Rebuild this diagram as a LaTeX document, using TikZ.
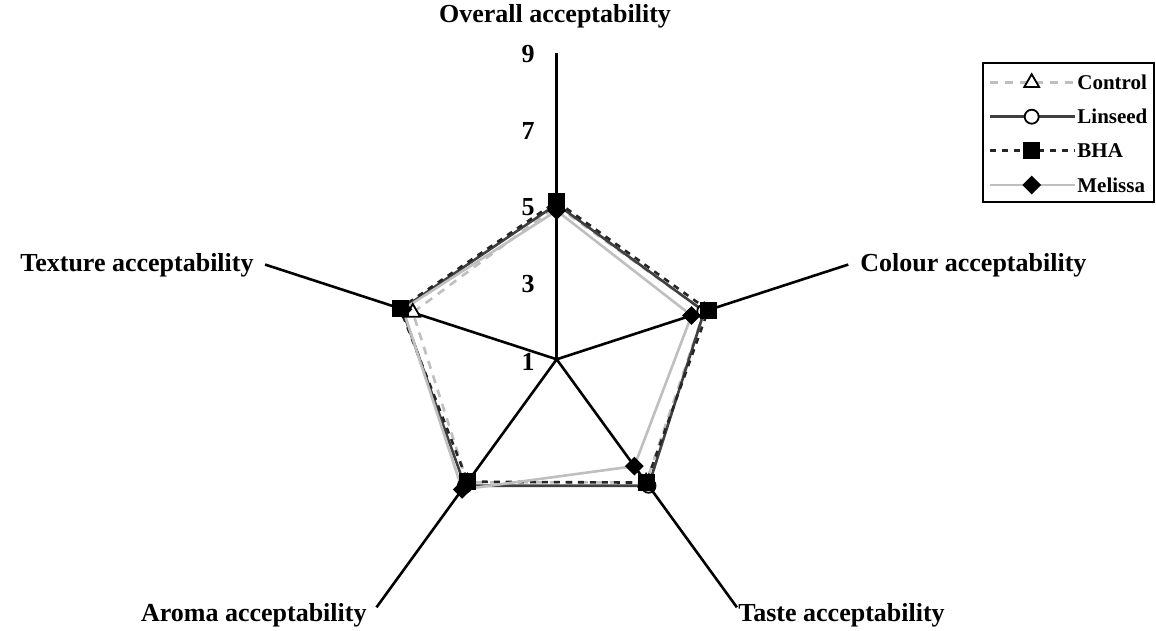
\documentclass[tikz,border=0pt]{standalone}
\usepackage{fontspec}
\setmainfont{Liberation Serif}
\usetikzlibrary{shapes.geometric}
\definecolor{lgray}{HTML}{BFBFBF}
\definecolor{dgray}{HTML}{404040}
\tikzset{
  axisline/.style={line width=1.3pt, black},
  ctrl/.style={lgray, line width=1.3pt, dash pattern=on 4pt off 3.5pt},
  lins/.style={dgray, line width=1.3pt},
  bha/.style={black!85, line width=1.3pt, dash pattern=on 3pt off 3pt},
  mel/.style={lgray, line width=1.3pt},
  mtri/.style={regular polygon, regular polygon sides=3, draw=black, fill=white, line width=0.9pt, inner sep=0pt, minimum size=8.5pt},
  mcirc/.style={circle, draw=black, fill=white, line width=0.9pt, inner sep=0pt, minimum size=7pt},
  msq/.style={rectangle, fill=black, inner sep=0pt, minimum size=8.5pt},
  mdia/.style={diamond, fill=black, inner sep=0pt, minimum width=9.5pt, minimum height=9.5pt},
  axlab/.style={inner sep=0pt},
  ticklab/.style={inner sep=0pt},
  legtext/.style={font=\fontsize{10.5}{12}\selectfont\bfseries, anchor=west, inner sep=0pt}
}
\begin{document}
\begin{tikzpicture}[x=0.5pt, y=0.5pt, font=\fontsize{13}{15}\selectfont\bfseries]
\useasboundingbox (-556.7,-271.7) rectangle (599.3,359.3);

% axes
\coordinate (O) at (0,0);
\coordinate (Aov) at (90:306.6);
\coordinate (Aco) at (18:306.6);
\coordinate (Ata) at (-54:306.6);
\coordinate (Aar) at (234:306.6);
\coordinate (Atx) at (162:306.6);
\foreach \a in {Aov,Aco,Ata,Aar,Atx} \draw[axisline] (O) -- (\a);

% axis labels
\node[axlab] (Lov) at (-1.7,342.8) {Overall acceptability};
\node[axlab, anchor=east] (Ltx) at (-302.7,93.6) {Texture acceptability};
\node[axlab, anchor=west] (Lco) at (303.3,93.6) {Colour acceptability};
\node[axlab, anchor=east] (Lar) at (-189.7,-255.7) {Aroma acceptability};
\node[axlab, anchor=west] (Lta) at (181.3,-255.7) {Taste acceptability};

% scale labels
\node[ticklab] (t9) at (-28.7,304.9) {9};
\node[ticklab] (t7) at (-28.7,228.3) {7};
\node[ticklab] (t5) at (-28.7,151.7) {5};
\node[ticklab] (t3) at (-28.7,75.1) {3};
\node[ticklab] (t1) at (-28.7,-2.7) {1};

% Control
\coordinate (C1) at (90:153.2);
\coordinate (C2) at (18:155.1);
\coordinate (C3) at (-54:152.1);
\coordinate (C4) at (234:152.1);
\coordinate (C5) at (162:151.3);
% Linseed
\coordinate (L1) at (90:155.1);
\coordinate (L2) at (18:155.1);
\coordinate (L3) at (-54:156.3);
\coordinate (L4) at (234:156.3);
\coordinate (L5) at (162:162.8);
% BHA
\coordinate (B1) at (90:157.8);
\coordinate (B2) at (18:159.3);
\coordinate (B3) at (-54:152.4);
\coordinate (B4) at (234:151.3);
\coordinate (B5) at (162:164.7);
% Melissa
\coordinate (M1) at (90:148.6);
\coordinate (M2) at (18:141.7);
\coordinate (M3) at (-54:132.1);
\coordinate (M4) at (234:160.9);
\coordinate (M5) at (162:161.6);

\draw[ctrl] (C1) -- (C2) -- (C3) -- (C4) -- (C5) -- cycle;
\draw[lins] (L1) -- (L2) -- (L3) -- (L4) -- (L5) -- cycle;
\draw[bha] (B1) -- (B2) -- (B3) -- (B4) -- (B5) -- cycle;
\draw[mel] (M1) -- (M2) -- (M3) -- (M4) -- (M5) -- cycle;

\foreach \i in {1,...,5} \node[mtri] (Cm\i) at (C\i) {};
\foreach \i in {1,...,5} \node[mcirc] (Lm\i) at (L\i) {};
\foreach \i in {1,...,5} \node[msq] (Bm\i) at (B\i) {};
\foreach \i in {1,...,5} \node[mdia] (Mm\i) at (M\i) {};

% legend
\node[draw=black, line width=1.1pt, minimum width=85.5pt, minimum height=69.5pt, inner sep=0pt] (legbox) at (511.8,226.8) {};
\coordinate (g1a) at (433.3,276.6); \coordinate (g1b) at (518.3,276.6);
\coordinate (g2a) at (433.3,242.6); \coordinate (g2b) at (518.3,242.6);
\coordinate (g3a) at (433.3,208.6); \coordinate (g3b) at (518.3,208.6);
\coordinate (g4a) at (433.3,174.3); \coordinate (g4b) at (518.3,174.3);
\draw[ctrl] (g1a) -- (g1b);
\draw[lins] (g2a) -- (g2b);
\draw[bha] (g3a) -- (g3b);
\draw[mel] (g4a) -- (g4b);
\node[mtri] (gm1) at (475,276.6) {};
\node[mcirc] (gm2) at (475,242.6) {};
\node[msq] (gm3) at (475,208.6) {};
\node[mdia] (gm4) at (475,174.3) {};
\node[legtext] (gt1) at (520.3,276.6) {Control};
\node[legtext] (gt2) at (520.3,242.6) {Linseed};
\node[legtext] (gt3) at (520.3,208.6) {BHA};
\node[legtext] (gt4) at (520.3,174.3) {Melissa};
\end{tikzpicture}
\end{document}
